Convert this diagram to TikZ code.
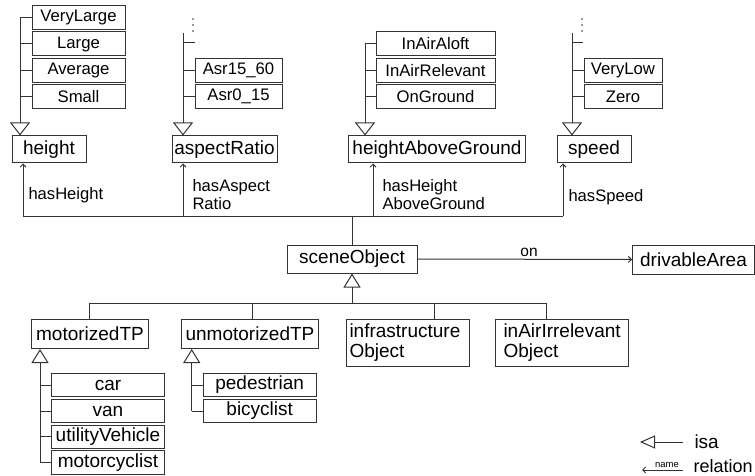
\documentclass[tikz,border=0pt]{standalone}
\usepackage{fontspec}
\setmainfont{Liberation Sans}
\usetikzlibrary{arrows.meta}
\begin{document}
\begin{tikzpicture}[x=1pt,y=-1pt,line width=1pt,
  ln/.style={draw=black!80},
  box/.style={draw=black!80, inner sep=0pt, minimum height=27pt, font=\fontsize{19}{20}\selectfont},
  vbox/.style={draw=black!80, inner sep=0pt, minimum height=24pt, font=\fontsize{16.7}{18}\selectfont},
  cbox/.style={draw=black!80, inner sep=0pt, minimum height=23.4pt, font=\fontsize{19}{20}\selectfont},
  mbox/.style={draw=black!80, inner sep=0pt, minimum height=47.7pt, text width=117pt, align=left, font=\fontsize{19}{20}\selectfont},
  isa/.style={draw=black!80, -{Triangle[open, length=13pt, width=20pt]}},
  isatwo/.style={draw=black!80, -{Triangle[open, length=14pt, width=17pt]}},
  rel/.style={draw=black!80, -{Straight Barb[length=3pt, width=6pt]}},
  lbl/.style={inner sep=0pt, anchor=west, align=left, font=\fontsize{16.6}{18}\selectfont},
  dot/.style={fill=black!80}]
\useasboundingbox (0,0) rectangle (755,476);

% ---------- height ----------
\node[vbox, minimum width=93] (vl) at (78.5,17.5) {VeryLarge};
\node[vbox, minimum width=93] (lg) at (78.5,44) {Large};
\node[vbox, minimum width=93] (av) at (78.5,70.3) {Average};
\node[vbox, minimum width=93] (sm) at (78.5,96.5) {Small};
\node[box, minimum width=74] (height) at (49,149.5) {height};
\coordinate (hs) at (20,17.5);
\draw[isa] (hs) -- (height.north -| hs);
\foreach \n in {vl,lg,av,sm} \draw[ln] (\n.west) -- (\n.west -| hs);

% ---------- aspectRatio ----------
\node[vbox, minimum width=87] (a1) at (238.5,70.3) {Asr15\_60};
\node[vbox, minimum width=87] (a2) at (238.5,96.5) {Asr0\_15};
\node[box, minimum width=105] (aspect) at (224.5,149.5) {aspectRatio};
\coordinate (as) at (183,33);
\coordinate (at) at (195,43);
\draw[isa] (as) -- (aspect.north -| as);
\draw[ln] (at) -- (at -| as);
\foreach \n in {a1,a2} \draw[ln] (\n.west) -- (\n.west -| as);
\foreach \yy in {19,25,31} \fill[dot] (193,\yy) circle (0.8);

% ---------- heightAboveGround ----------
\node[vbox, minimum width=119] (g1) at (435.5,44) {InAirAloft};
\node[vbox, minimum width=119] (g2) at (435.5,70.3) {InAirRelevant};
\node[vbox, minimum width=119] (g3) at (435.5,96.5) {OnGround};
\node[box, minimum width=177] (hag) at (437,149.5) {heightAboveGround};
\coordinate (gs) at (365,44);
\draw[isa] (gs) -- (hag.north -| gs);
\foreach \n in {g1,g2,g3} \draw[ln] (\n.west) -- (\n.west -| gs);

% ---------- speed ----------
\node[vbox, minimum width=78] (s1) at (623,70.3) {VeryLow};
\node[vbox, minimum width=78] (s2) at (623,96.5) {Zero};
\node[box, minimum width=74] (speed) at (594,149.5) {speed};
\coordinate (ss) at (572,33);
\coordinate (st) at (583,43);
\draw[isa] (ss) -- (speed.north -| ss);
\draw[ln] (st) -- (st -| ss);
\foreach \n in {s1,s2} \draw[ln] (\n.west) -- (\n.west -| ss);
\foreach \yy in {19,25,31} \fill[dot] (582,\yy) circle (0.8);

% ---------- relations to sceneObject ----------
\node[box, minimum width=130, minimum height=28] (scene) at (352,259) {sceneObject};
\node[box, minimum width=122, minimum height=29] (drive) at (693.5,259.5) {drivableArea};
\coordinate (bL) at (23,216);
\coordinate (bA) at (183,216);
\coordinate (bG) at (373,216);
\coordinate (bR) at (563,216);
\draw[ln] (bL) -- (bR);
\draw[ln] (scene.north) -- (scene.north |- bL);
\draw[rel] (bL) -- (height.south -| bL);
\draw[rel] (bA) -- (aspect.south -| bA);
\draw[rel] (bG) -- (hag.south -| bG);
\draw[rel] (bR) -- (speed.south -| bR);
\node[lbl] (l1) at (28,195) {hasHeight};
\node[lbl] (l2) at (192,194.5) {hasAspect\\Ratio};
\node[lbl] (l3) at (382,194.5) {hasHeight\\AboveGround};
\node[lbl] (l4) at (568,197) {hasSpeed};
\draw[rel] (scene.east) -- (drive.west) node[pos=0.52, above=1.5pt, inner sep=1pt, font=\fontsize{15.5}{17}\selectfont] {on};

% ---------- subclasses of sceneObject ----------
\node[box, minimum width=116.7, minimum height=29] (mtp) at (90,334) {motorizedTP};
\node[box, minimum width=136.7, minimum height=29] (utp) at (250,334) {unmotorizedTP};
\node[mbox, minimum width=122.7] (infra) at (408,343) {infrastructure\\Object};
\node[mbox, minimum width=132.7] (iair) at (562,343) {inAirIrrelevant\\Object};
\coordinate (b0) at (352,303);
\coordinate (d1) at (89,303);
\coordinate (d2) at (252.7,303);
\coordinate (d3) at (434.3,303);
\coordinate (d4) at (546.7,303);
\draw[isatwo] (b0) -- (scene.south);
\draw[ln] (d1) -- (d4);
\draw[ln] (d1) -- (d1 |- mtp.north);
\draw[ln] (d2) -- (d2 |- utp.north);
\draw[ln] (d3) -- (d3 |- infra.north);
\draw[ln] (d4) -- (d4 |- iair.north);

% ---------- motorizedTP ----------
\node[cbox, minimum width=112.3] (car) at (108,385) {car};
\node[cbox, minimum width=112.3] (van) at (108,411) {van};
\node[cbox, minimum width=112.3] (uv) at (108,436.7) {utilityVehicle};
\node[cbox, minimum width=112.3] (mc) at (108,462.3) {motorcyclist};
\coordinate (ms) at (40,462.3);
\draw[isatwo] (ms) -- (ms |- mtp.south);
\foreach \n in {car,van,uv,mc} \draw[ln] (\n.west) -- (\n.west -| ms);

% ---------- unmotorizedTP ----------
\node[cbox, minimum width=112.7] (ped) at (259.7,385) {pedestrian};
\node[cbox, minimum width=112.7] (bic) at (259.7,411) {bicyclist};
\coordinate (us) at (191.7,411);
\draw[isatwo] (us) -- (us |- utp.south);
\foreach \n in {ped,bic} \draw[ln] (\n.west) -- (\n.west -| us);

% ---------- legend ----------
\coordinate (li1) at (683,442);
\coordinate (li2) at (640,442);
\draw[draw=black!80, -{Triangle[open, length=15pt, width=13pt]}] (li1) -- (li2);
\node[inner sep=0pt, anchor=west, font=\fontsize{19}{20}\selectfont] (isatxt) at (694,442) {isa};
\coordinate (lr1) at (683,470);
\coordinate (lr2) at (642,470);
\draw[rel] (lr1) -- (lr2);
\node[inner sep=0pt, font=\fontsize{9.5}{10}\selectfont] (nametxt) at (667,464.5) {name};
\node[inner sep=0pt, anchor=west, font=\fontsize{18}{19}\selectfont] (reltxt) at (693,466.5) {relation};
\end{tikzpicture}
\end{document}
